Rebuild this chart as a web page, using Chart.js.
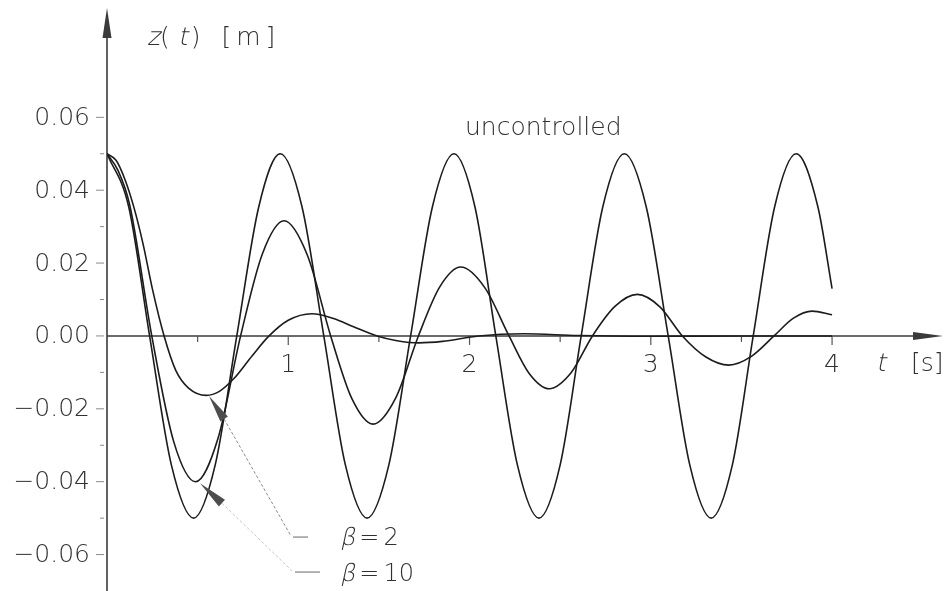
<!DOCTYPE html>
<html>
<head>
<meta charset="utf-8">
<title>z(t) response</title>
<script src="https://cdn.jsdelivr.net/npm/chart.js@4.4.1/dist/chart.umd.min.js"></script>
<style>
  html, body { margin: 0; padding: 0; background: #fff; }
  canvas { display: block; }
</style>
</head>
<body>
<canvas id="responseChart" width="949" height="591"></canvas>
<script>
// time t [s] and displacement z(t) [m] for the three runs
const uncontrolledT = [0, 0.12, 0.235, 0.355, 0.478, 0.597, 0.716, 0.837, 0.956, 1.076, 1.196, 1.315, 1.435, 1.555, 1.675, 1.795, 1.914, 2.030, 2.145, 2.264, 2.383, 2.500, 2.616, 2.735, 2.854, 2.975, 3.096, 3.215, 3.333, 3.450, 3.565, 3.683, 3.802, 3.922, 4.0];
const uncontrolledZ = [0.05, 0.0354, 0, -0.0354, -0.05, -0.0354, 0, 0.0354, 0.05, 0.0354, 0, -0.0354, -0.05, -0.0354, 0, 0.0354, 0.05, 0.0354, 0, -0.0354, -0.05, -0.0354, 0, 0.0354, 0.05, 0.0354, 0, -0.0354, -0.05, -0.0354, 0, 0.0354, 0.05, 0.0354, 0.013];

const beta10T = [0, 0.06, 0.125, 0.247, 0.368, 0.489, 0.613, 0.737, 0.857, 0.977, 1.105, 1.234, 1.351, 1.468, 1.593, 1.718, 1.835, 1.951, 2.085, 2.218, 2.329, 2.44, 2.559, 2.678, 2.802, 2.926, 3.05, 3.174, 3.302, 3.43, 3.555, 3.68, 3.785, 3.89, 4.0];
const beta10Z = [0.05, 0.0455, 0.036, 0, -0.029, -0.040, -0.028, 0, 0.0225, 0.0316, 0.0222, 0, -0.0172, -0.0242, -0.0170, 0, 0.0134, 0.0189, 0.0132, 0, -0.0103, -0.0145, -0.0102, 0, 0.0081, 0.0114, 0.0080, 0, -0.0057, -0.0080, -0.0056, 0, 0.0048, 0.0068, 0.0058];

const beta2T = [0, 0.05, 0.10, 0.15, 0.20, 0.25, 0.315, 0.38, 0.45, 0.548, 0.62, 0.70, 0.80, 0.894, 1.0, 1.13, 1.25, 1.36, 1.49, 1.60, 1.72, 1.85, 2.05, 2.3, 2.6, 3.0, 3.5, 4.0];
const beta2Z = [0.05, 0.0482, 0.0428, 0.0350, 0.0250, 0.0130, 0, -0.0095, -0.0143, -0.0163, -0.0152, -0.0117, -0.0055, 0, 0.0043, 0.0061, 0.0048, 0.0025, 0, -0.0013, -0.0019, -0.0015, 0, 0.0006, 0.0001, -0.0001, 0, 0];

const xMajorTicks = [1, 2, 3, 4];
const xTickLabels = ['1', '2', '3', '4'];
const xMinorTicks = [0.5, 1.5, 2.5, 3.5];
const yMajorTicks = [-0.06, -0.04, -0.02, 0, 0.02, 0.04, 0.06];
const yTickLabels = ['\u22120.06', '\u22120.04', '\u22120.02', '0.00', '0.02', '0.04', '0.06'];
const yMinorTicks = [-0.05, -0.03, -0.01, 0.01, 0.03, 0.05];

const FONT = '"DejaVu Sans", "Liberation Sans", sans-serif';
const WEIGHT = '200 ';
const axisInk = '#3a3a3a';
const textInk = '#303030';
const curveInk = '#1c1c1c';

// notes placed in data units (t, z)
const notes = {
  uncontrolled: { t: 1.975, z: 0.0551 },
  beta2: {
    tip: { t: 0.563, z: -0.0165 }, base: { t: 0.646, z: -0.0228 },
    lead: { t: 1.015, z: -0.0549 },
    dash: [{ t: 1.026, z: -0.0552 }, { t: 1.109, z: -0.0552 }],
    label: { t: 1.2855, z: -0.0574 }, value: '2'
  },
  beta10: {
    tip: { t: 0.513, z: -0.0404 }, base: { t: 0.634, z: -0.0459 },
    lead: { t: 1.021, z: -0.0645 },
    dash: [{ t: 1.037, z: -0.0648 }, { t: 1.175, z: -0.0648 }],
    label: { t: 1.2855, z: -0.0673 }, value: '10'
  }
};

function toPoints(ts, zs) {
  return ts.map((t, i) => ({ x: t, y: zs[i] }));
}

function arrowHead(ctx, tipX, tipY, baseX, baseY, halfWidth) {
  const ang = Math.atan2(tipY - baseY, tipX - baseX);
  const nx = -Math.sin(ang) * halfWidth;
  const ny = Math.cos(ang) * halfWidth;
  ctx.beginPath();
  ctx.moveTo(tipX, tipY);
  ctx.lineTo(baseX + nx, baseY + ny);
  ctx.lineTo(baseX - nx, baseY - ny);
  ctx.closePath();
  ctx.fill();
}

// draws a row of text pieces with extra gaps; the light face has no italic,
// so slanted pieces are sheared by hand
function textRun(ctx, parts, x, y, size) {
  let cx = x;
  ctx.font = WEIGHT + size + 'px ' + FONT;
  parts.forEach(p => {
    const gx = cx + (p.gap || 0);
    if (p.italic) {
      ctx.save();
      ctx.translate(gx, y);
      ctx.transform(1, 0, -0.22, 1, 0, 0);
      ctx.fillText(p.text, 0, 0);
      ctx.restore();
    } else {
      ctx.fillText(p.text, gx, y);
    }
    cx = gx + ctx.measureText(p.text).width;
  });
}

const axesPlugin = {
  id: 'axesPlugin',
  beforeDatasetsDraw(chart) {
    const { ctx, chartArea, scales: { x, y } } = chart;
    const x0 = x.getPixelForValue(0);
    const y0 = y.getPixelForValue(0);
    ctx.save();
    ctx.strokeStyle = axisInk;
    ctx.fillStyle = axisInk;
    ctx.lineWidth = 1.6;

    // vertical axis with arrow
    ctx.beginPath();
    ctx.moveTo(x0, chartArea.bottom);
    ctx.lineTo(x0, chartArea.top + 26);
    ctx.stroke();
    arrowHead(ctx, x0, chartArea.top, x0, chartArea.top + 30, 4.5);

    // horizontal axis with arrow
    ctx.beginPath();
    ctx.moveTo(x0, y0);
    ctx.lineTo(chartArea.right - 26, y0);
    ctx.stroke();
    arrowHead(ctx, chartArea.right, y0, chartArea.right - 30, y0, 4);

    // ticks
    ctx.lineWidth = 1.2;
    ctx.strokeStyle = '#555';
    xMajorTicks.forEach(v => {
      const px = x.getPixelForValue(v);
      ctx.beginPath(); ctx.moveTo(px, y0); ctx.lineTo(px, y0 + 9); ctx.stroke();
    });
    xMinorTicks.forEach(v => {
      const px = x.getPixelForValue(v);
      ctx.beginPath(); ctx.moveTo(px, y0); ctx.lineTo(px, y0 + 6); ctx.stroke();
    });
    ctx.strokeStyle = '#8a8a8a';
    ctx.lineWidth = 1;
    yMajorTicks.forEach(v => {
      const py = y.getPixelForValue(v);
      ctx.beginPath(); ctx.moveTo(x0 - 11, py); ctx.lineTo(x0 - 3, py); ctx.stroke();
    });
    yMinorTicks.forEach(v => {
      const py = y.getPixelForValue(v);
      ctx.beginPath(); ctx.moveTo(x0 - 7, py); ctx.lineTo(x0 - 3, py); ctx.stroke();
    });
    ctx.restore();
  },
  afterDraw(chart) {
    const { ctx, chartArea, scales: { x, y } } = chart;
    const x0 = x.getPixelForValue(0);
    const y0 = y.getPixelForValue(0);
    const px = p => x.getPixelForValue(p.t);
    const py = p => y.getPixelForValue(p.z);
    ctx.save();
    ctx.fillStyle = textInk;

    // tick labels
    ctx.font = WEIGHT + '25px ' + FONT;
    ctx.textAlign = 'center';
    ctx.textBaseline = 'alphabetic';
    xMajorTicks.forEach((v, i) => {
      ctx.fillText(xTickLabels[i], x.getPixelForValue(v), y0 + 36);
    });
    ctx.textAlign = 'right';
    ctx.textBaseline = 'middle';
    yMajorTicks.forEach((v, i) => {
      ctx.fillText(yTickLabels[i], x0 - 17, y.getPixelForValue(v) + 1);
    });

    // axis titles
    ctx.textAlign = 'left';
    ctx.textBaseline = 'alphabetic';
    textRun(ctx, [
      { text: 'z', italic: true },
      { text: '(', gap: 0 },
      { text: 't', italic: true, gap: 8 },
      { text: ')', gap: 3 },
      { text: '[', gap: 21 },
      { text: 'm', gap: 5 },
      { text: ']', gap: 5 }
    ], x0 + 40, chartArea.top + 37, 25);
    textRun(ctx, [{ text: 't', italic: true }], chartArea.right - 67, y0 + 35, 25);
    textRun(ctx, [{ text: '[s]' }], chartArea.right - 32, y0 + 35, 25);

    // curve note
    ctx.font = WEIGHT + '25px ' + FONT;
    ctx.fillText('uncontrolled', px(notes.uncontrolled), py(notes.uncontrolled));

    // leader lines, arrowheads and labels for the controlled runs
    [[notes.beta2, '#8c8c8c'], [notes.beta10, '#c8c8c8']].forEach(([n, leadInk]) => {
      ctx.strokeStyle = leadInk;
      ctx.lineWidth = 1;
      ctx.setLineDash([3, 2]);
      ctx.beginPath();
      ctx.moveTo(px(n.base), py(n.base));
      ctx.lineTo(px(n.lead), py(n.lead));
      ctx.stroke();
      ctx.setLineDash([]);
      ctx.strokeStyle = '#8a8a8a';
      ctx.lineWidth = 1.3;
      ctx.beginPath();
      ctx.moveTo(px(n.dash[0]), py(n.dash[0]));
      ctx.lineTo(px(n.dash[1]), py(n.dash[1]));
      ctx.stroke();
      ctx.fillStyle = '#4d4d4d';
      arrowHead(ctx, px(n.tip), py(n.tip), px(n.base), py(n.base), 4.5);
      ctx.fillStyle = textInk;
      textRun(ctx, [
        { text: '\u03b2', italic: true },
        { text: '=', gap: 4 },
        { text: n.value, gap: 4 }
      ], px(n.label), py(n.label), 24);
    });
    ctx.restore();
  }
};

const lineStyle = {
  borderColor: curveInk,
  borderWidth: 1.6,
  pointRadius: 0,
  fill: false,
  cubicInterpolationMode: 'monotone'
};

new Chart(document.getElementById('responseChart'), {
  type: 'line',
  data: {
    datasets: [
      Object.assign({ label: 'uncontrolled', data: toPoints(uncontrolledT, uncontrolledZ) }, lineStyle),
      Object.assign({ label: '\u03b2 = 10', data: toPoints(beta10T, beta10Z) }, lineStyle),
      Object.assign({ label: '\u03b2 = 2', data: toPoints(beta2T, beta2Z) }, lineStyle)
    ]
  },
  options: {
    responsive: false,
    animation: false,
    devicePixelRatio: 1,
    layout: { padding: { left: 107, right: 6, top: 8, bottom: 0 } },
    plugins: { legend: { display: false }, tooltip: { enabled: false } },
    scales: {
      x: { type: 'linear', min: 0, max: 4.612, display: false },
      y: { type: 'linear', min: -0.070, max: 0.090, display: false }
    }
  },
  plugins: [axesPlugin]
});
</script>
</body>
</html>
